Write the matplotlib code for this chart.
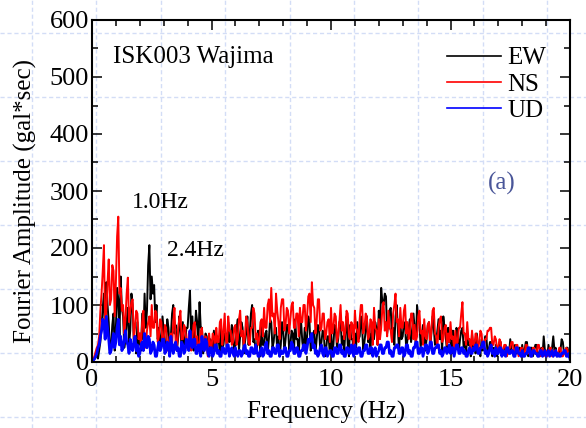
import numpy as np
import matplotlib
matplotlib.use('Agg')
import matplotlib.pyplot as plt

# Fourier spectra, ISK003 Wajima, read every 0.05 Hz (one row = 1 Hz)
ew_rows = [
    [0, 3, 5, 9, 12, 6, 20, 35, 60, 95, 120, 40, 140, 100, 70, 15, 30, 65, 85, 20],
    [60, 130, 110, 45, 150, 95, 80, 25, 40, 70, 95, 30, 55, 120, 100, 35, 45, 15, 70, 30],
    [50, 20, 85, 40, 120, 60, 90, 170, 205, 110, 150, 120, 135, 70, 100, 40, 60, 25, 45, 80],
    [55, 15, 30, 75, 60, 20, 45, 85, 100, 50, 65, 20, 40, 80, 55, 25, 70, 30, 35, 60],
    [60, 95, 125, 40, 80, 20, 45, 90, 70, 30, 105, 60, 60, 15, 30, 50, 45, 10, 20, 40],
    [35, 10, 55, 20, 25, 45, 40, 15, 60, 25, 30, 50, 50, 20, 70, 35, 40, 65, 55, 15],
    [30, 60, 75, 20, 45, 70, 60, 15, 35, 50, 80, 30, 50, 85, 100, 35, 40, 15, 25, 55],
    [45, 10, 65, 30, 30, 50, 55, 15, 40, 75, 70, 25, 35, 60, 60, 20, 45, 10, 30, 70],
    [55, 20, 40, 65, 65, 20, 30, 55, 50, 15, 75, 40, 40, 10, 55, 70, 35, 20, 60, 25],
    [45, 80, 70, 20, 30, 50, 55, 15, 40, 65, 60, 20, 35, 55, 50, 10, 25, 45, 45, 15],
    [55, 20, 30, 65, 60, 25, 40, 70, 75, 30, 45, 15, 55, 80, 30, 10, 65, 40, 40, 15],
    [50, 25, 70, 40, 45, 80, 60, 20, 35, 55, 80, 35, 50, 15, 65, 40, 40, 70, 60, 30],
    [90, 60, 130, 105, 100, 120, 115, 50, 70, 90, 95, 40, 60, 30, 80, 100, 55, 20, 70, 40],
    [45, 70, 65, 20, 40, 60, 75, 35, 50, 85, 60, 30, 100, 75, 70, 25, 45, 65, 60, 20],
    [40, 65, 70, 25, 50, 80, 60, 30, 35, 55, 75, 40, 55, 20, 80, 60, 45, 20, 60, 35],
    [40, 15, 55, 35, 30, 60, 50, 20, 40, 55, 60, 25, 35, 15, 45, 30, 30, 10, 50, 25],
    [35, 15, 50, 25, 25, 10, 40, 20, 30, 45, 45, 15, 20, 35, 35, 10, 25, 15, 30, 10],
    [20, 35, 35, 10, 15, 25, 30, 10, 25, 15, 40, 20, 20, 10, 30, 15, 15, 25, 25, 10],
    [30, 15, 20, 35, 35, 10, 15, 25, 25, 10, 20, 30, 30, 10, 15, 20, 25, 10, 45, 20],
    [20, 10, 30, 15, 15, 25, 45, 20, 25, 10, 10, 20, 20, 40, 35, 15, 15, 25, 25, 10],
    [10],
]

ns_rows = [
    [0, 5, 10, 18, 25, 30, 45, 90, 120, 160, 205, 60, 90, 140, 180, 100, 110, 170, 160, 80],
    [140, 220, 255, 120, 130, 90, 100, 50, 75, 120, 148, 70, 90, 105, 110, 40, 60, 90, 85, 40],
    [50, 30, 70, 90, 40, 25, 55, 70, 80, 45, 100, 60, 60, 90, 85, 35, 45, 75, 70, 30],
    [40, 65, 60, 20, 25, 45, 50, 30, 70, 95, 35, 20, 55, 75, 90, 40, 40, 65, 60, 25],
    [30, 50, 55, 20, 40, 65, 70, 30, 45, 20, 30, 55, 60, 25, 20, 45, 35, 10, 50, 30],
    [25, 50, 45, 20, 60, 35, 35, 70, 75, 30, 50, 85, 40, 25, 80, 55, 55, 30, 35, 60],
    [65, 30, 40, 75, 90, 45, 55, 30, 45, 80, 70, 35, 30, 60, 60, 95, 85, 40, 50, 30],
    [40, 70, 75, 45, 95, 60, 60, 100, 110, 70, 130, 80, 85, 50, 120, 90, 70, 40, 95, 110],
    [110, 55, 65, 95, 90, 50, 75, 100, 105, 60, 60, 85, 85, 45, 95, 70, 70, 100, 100, 55],
    [80, 115, 120, 70, 140, 100, 95, 50, 70, 110, 110, 55, 60, 85, 85, 40, 50, 70, 75, 35],
    [95, 50, 60, 85, 80, 35, 45, 70, 100, 55, 70, 40, 55, 90, 85, 45, 40, 70, 65, 30],
    [90, 60, 55, 35, 75, 100, 100, 50, 60, 85, 80, 40, 45, 75, 70, 30, 95, 60, 55, 30],
    [75, 40, 60, 95, 105, 55, 70, 45, 90, 60, 55, 35, 85, 100, 120, 70, 75, 45, 95, 60],
    [60, 90, 100, 50, 70, 40, 50, 85, 85, 40, 65, 35, 45, 80, 90, 50, 55, 30, 75, 45],
    [40, 65, 70, 30, 55, 90, 95, 50, 45, 25, 60, 75, 80, 35, 40, 60, 65, 30, 50, 35],
    [70, 40, 45, 25, 55, 30, 35, 60, 60, 85, 105, 50, 50, 30, 70, 40, 40, 20, 55, 30],
    [30, 50, 45, 20, 35, 55, 50, 25, 25, 40, 40, 55, 55, 60, 60, 30, 30, 45, 40, 20],
    [25, 40, 35, 15, 20, 30, 30, 10, 15, 25, 25, 35, 35, 15, 20, 30, 30, 10, 15, 25],
    [25, 10, 15, 30, 30, 15, 20, 10, 10, 25, 25, 15, 15, 30, 30, 10, 20, 25, 10, 15],
    [20, 10, 15, 25, 25, 10, 10, 20, 20, 15, 15, 25, 25, 10, 10, 15, 15, 25, 20, 10],
    [10],
]

ud_rows = [
    [0, 3, 5, 10, 15, 25, 30, 45, 55, 75, 70, 40, 80, 60, 40, 15, 20, 35, 50, 25],
    [35, 60, 75, 30, 45, 20, 25, 40, 55, 35, 30, 15, 40, 25, 20, 35, 45, 20, 30, 10],
    [15, 30, 35, 20, 50, 30, 25, 45, 40, 15, 20, 35, 30, 10, 10, 25, 35, 20, 25, 40],
    [40, 15, 20, 35, 30, 10, 45, 25, 15, 30, 35, 20, 25, 10, 10, 35, 30, 15, 20, 40],
    [35, 20, 55, 30, 25, 40, 40, 15, 15, 30, 30, 10, 45, 25, 20, 40, 35, 15, 10, 25],
    [25, 10, 15, 30, 30, 15, 20, 10, 10, 25, 25, 15, 15, 30, 30, 10, 20, 25, 15, 10],
    [25, 15, 10, 20, 20, 10, 15, 25, 30, 15, 20, 10, 10, 25, 25, 15, 15, 30, 20, 10],
    [10, 20, 25, 10, 15, 30, 35, 15, 20, 10, 10, 25, 25, 15, 15, 30, 30, 10, 20, 15],
    [15, 25, 25, 10, 10, 20, 20, 35, 30, 15, 15, 25, 25, 10, 10, 20, 20, 30, 30, 15],
    [25, 40, 35, 45, 50, 25, 30, 15, 20, 10, 15, 25, 30, 15, 10, 25, 25, 10, 15, 20],
    [20, 10, 10, 25, 25, 15, 15, 30, 30, 15, 20, 10, 10, 25, 25, 15, 15, 30, 20, 10],
    [30, 15, 15, 25, 25, 10, 10, 20, 20, 30, 30, 15, 15, 25, 25, 10, 20, 25, 10, 15],
    [20, 30, 30, 15, 15, 25, 25, 35, 35, 15, 20, 10, 10, 25, 25, 30, 30, 15, 15, 25],
    [25, 10, 15, 30, 30, 15, 20, 10, 10, 25, 25, 35, 35, 15, 15, 25, 25, 10, 20, 30],
    [30, 15, 20, 35, 35, 15, 15, 25, 25, 30, 30, 15, 20, 10, 15, 25, 25, 15, 20, 30],
    [15, 25, 25, 10, 20, 30, 30, 15, 15, 25, 25, 15, 20, 10, 10, 20, 25, 15, 15, 25],
    [20, 30, 30, 15, 15, 25, 25, 35, 35, 15, 20, 10, 15, 25, 30, 15, 20, 10, 25, 15],
    [15, 25, 25, 10, 20, 15, 10, 25, 25, 15, 15, 20, 20, 10, 10, 25, 25, 15, 15, 10],
    [20, 10, 10, 15, 15, 25, 25, 10, 10, 20, 20, 15, 15, 10, 10, 20, 20, 10, 15, 20],
    [10, 15, 20, 10, 15, 20, 10, 15, 20, 10, 15, 10, 10, 15, 15, 20, 20, 10, 10, 15],
    [5],
]

ew = [v for row in ew_rows for v in row]
ns = [v for row in ns_rows for v in row]
ud = [v for row in ud_rows for v in row]

series_labels = ['EW', 'NS', 'UD']
series_colors = ['black', '#ff0000', '#0000ff']
series_widths = [1.4, 1.4, 2.0]

plt.rcParams['font.family'] = ['Liberation Serif', 'DejaVu Serif']

W, H = 586, 428
fig = plt.figure(figsize=(W / 100, H / 100), dpi=100)

# graph-paper background
bg = fig.add_axes([0, 0, 1, 1], zorder=-1)
bg.set_xlim(0, W)
bg.set_ylim(H, 0)
bg.set_axis_off()
for gx in np.arange(32, W, 64.4):
    bg.axvline(gx, color='#d3ddf6', lw=1.0, ls=(0, (3, 2)))
for gy in np.arange(33, H, 64.0):
    bg.axhline(gy, color='#d3ddf6', lw=1.0, ls=(0, (3, 2)))

ax = fig.add_axes([92 / W, 1 - 362 / H, 478 / W, 342 / H])
ax.set_facecolor('none')

for vals, lab, col, lw in zip([ew, ns, ud], series_labels, series_colors, series_widths):
    freq = np.arange(len(vals)) * 0.05
    ax.plot(freq, vals, color=col, lw=lw, label=lab)

ax.set_xlim(0, 20)
ax.set_ylim(0, 600)
ax.set_xticks([0, 5, 10, 15, 20])
ax.set_xticks(np.arange(0, 21, 1), minor=True)
ax.set_yticks(np.arange(0, 601, 100))
ax.set_yticks(np.arange(0, 601, 50), minor=True)
ax.tick_params(which='both', direction='in', top=True, right=True, width=1.1, labelsize=19)
ax.tick_params(which='major', length=7.5)
ax.tick_params(which='minor', length=4.5)
ax.tick_params(axis='y', pad=2)
ax.tick_params(axis='x', pad=5)
for sp in ax.spines.values():
    sp.set_linewidth(1.5)

ax.set_xlabel('Frequency (Hz)', fontsize=18)
ax.set_ylabel('Fourier Amplitude (gal*sec)', fontsize=18)
ax.xaxis.set_label_coords(0.49, -0.115)
ax.yaxis.set_label_coords(-0.115, 0.47)

ax.text(0.88, 535, 'ISK003 Wajima', fontsize=18, va='center')
ax.text(1.67, 279, '1.0Hz', fontsize=17, va='center')
ax.text(3.14, 196, '2.4Hz', fontsize=17, va='center')
ax.text(16.55, 314, '(a)', fontsize=18, va='center', color='#4a5699')

leg = ax.legend(loc='upper left', bbox_to_anchor=(447 / W, 1 - 47 / H),
                bbox_transform=fig.transFigure, frameon=False, fontsize=18,
                handlelength=2.15, handletextpad=0.25, labelspacing=0.15,
                borderpad=0, borderaxespad=0)
for line in leg.get_lines():
    line.set_linewidth(1.2)

fig.savefig('out.png', dpi=100)
